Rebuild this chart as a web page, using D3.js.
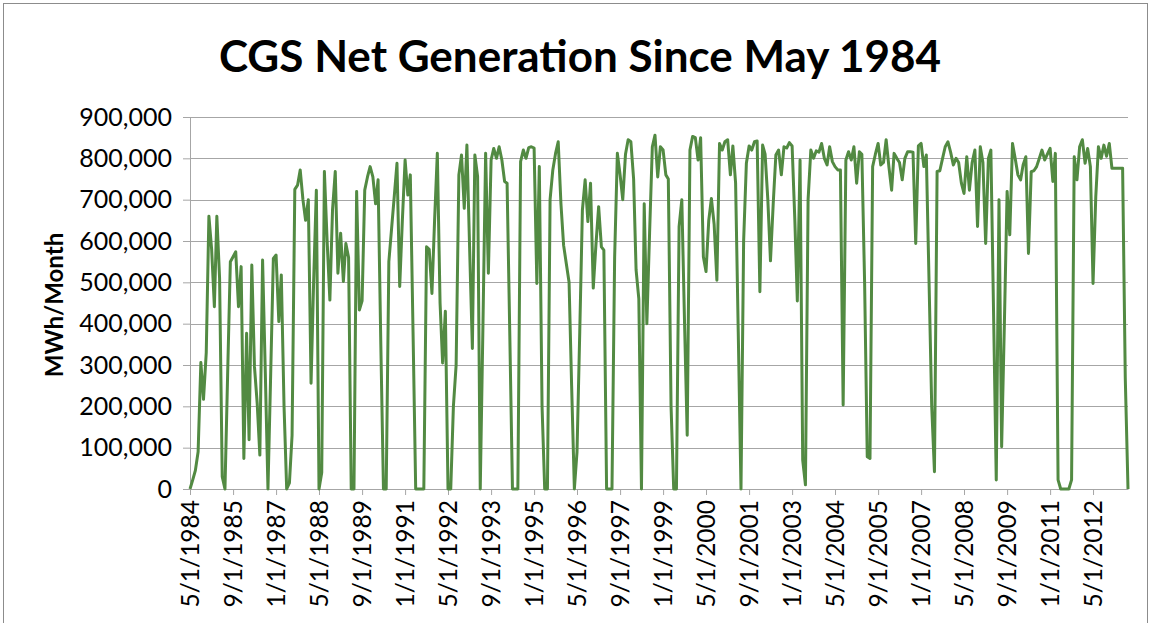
<!DOCTYPE html>
<meta charset="utf-8">
<script src="https://d3js.org/d3.v7.min.js"></script>
<style>
  body { margin: 0; background: #fff; }
  text { font-family: Lato, "Open Sans", sans-serif; fill: #000; }
  .axis path, .axis line { stroke: #a6a6a6; }
  .grid line { stroke: #a6a6a6; }
</style>
<body>
<div id="chart"></div>
<script>
// months covered by the series
var startMonth = new Date(1984, 4, 1);
var endMonth = new Date(2013, 5, 1);

var tickLabels = ["5/1/1984", "9/1/1985", "1/1/1987", "5/1/1988", "9/1/1989", "1/1/1991",
  "5/1/1992", "9/1/1993", "1/1/1995", "5/1/1996", "9/1/1997", "1/1/1999", "5/1/2000",
  "9/1/2001", "1/1/2003", "5/1/2004", "9/1/2005", "1/1/2007", "5/1/2008", "9/1/2009",
  "1/1/2011", "5/1/2012"];

var yTicks = [0, 100000, 200000, 300000, 400000, 500000, 600000, 700000, 800000, 900000];

// MWh per month (one value per month, May 1984 - Jun 2013)
var netGeneration = [
  0, 22000, 45000, 90000, 306000, 217000, 330000, 660000, 580000, 441000,
  660000, 510000, 30000, 0, 275000, 550000, 562000, 574000, 441000, 538000,
  74000, 377000, 119000, 542000, 296000, 207000, 82000, 554000, 280000, 0,
  280000, 558000, 566000, 405000, 518000, 200000, 0, 15000, 130000, 725000,
  735000, 772000, 700000, 650000, 700000, 256000, 500000, 723000, 0, 40000,
  768000, 600000, 457000, 675000, 768000, 522000, 619000, 502000, 594000, 560000,
  0, 0, 720000, 433000, 455000, 723000, 755000, 780000, 755000, 690000,
  748000, 350000, 0, 0, 550000, 630000, 710000, 788000, 490000, 650000,
  796000, 711000, 760000, 380000, 0, 0, 0, 0, 586000, 580000,
  473000, 650000, 812000, 450000, 305000, 430000, 0, 0, 200000, 300000,
  760000, 808000, 679000, 832000, 580000, 340000, 808000, 756000, 0, 400000,
  812000, 522000, 796000, 824000, 800000, 828000, 796000, 744000, 740000, 370000,
  0, 0, 0, 792000, 820000, 800000, 826000, 828000, 825000, 497000,
  780000, 200000, 0, 0, 700000, 772000, 812000, 840000, 690000, 590000,
  545000, 500000, 250000, 0, 90000, 380000, 675000, 748000, 647000, 740000,
  486000, 590000, 683000, 586000, 578000, 0, 0, 0, 560000, 812000,
  760000, 700000, 810000, 845000, 840000, 750000, 530000, 460000, 0, 690000,
  400000, 620000, 828000, 856000, 755000, 828000, 820000, 760000, 750000, 200000,
  0, 0, 635000, 700000, 400000, 130000, 820000, 853000, 850000, 796000,
  850000, 562000, 526000, 650000, 703000, 640000, 505000, 836000, 820000, 840000,
  845000, 760000, 830000, 740000, 380000, 0, 600000, 788000, 830000, 820000,
  840000, 842000, 477000, 832000, 810000, 700000, 552000, 690000, 808000, 820000,
  760000, 828000, 825000, 838000, 830000, 650000, 455000, 796000, 70000, 10000,
  700000, 820000, 800000, 818000, 815000, 836000, 800000, 784000, 828000, 792000,
  780000, 772000, 772000, 203000, 796000, 816000, 796000, 828000, 740000, 816000,
  810000, 500000, 78000, 74000, 780000, 810000, 836000, 784000, 790000, 845000,
  780000, 723000, 812000, 800000, 790000, 748000, 800000, 816000, 816000, 815000,
  594000, 830000, 836000, 780000, 808000, 500000, 200000, 42000, 768000, 770000,
  800000, 828000, 840000, 815000, 784000, 800000, 790000, 740000, 715000, 804000,
  723000, 790000, 820000, 635000, 828000, 790000, 594000, 800000, 820000, 420000,
  22000, 700000, 102000, 400000, 720000, 615000, 836000, 800000, 760000, 748000,
  784000, 804000, 570000, 768000, 770000, 780000, 800000, 820000, 796000, 810000,
  824000, 744000, 812000, 22000, 0, 0, 0, 0, 22000, 804000,
  748000, 828000, 845000, 788000, 824000, 780000, 497000, 707000, 828000, 800000,
  832000, 805000, 836000, 776000, 776000, 776000, 776000, 776000, 270000, 0
];

var width = 1151, height = 623;
var plot = { left: 190, right: 1128, top: 117, bottom: 489 };

var months = d3.timeMonth.range(startMonth, d3.timeMonth.offset(endMonth, 1));
var data = months.map(function(m, i) { return { date: m, value: netGeneration[i] }; });

var parseLabel = d3.timeParse("%m/%d/%Y");
var tickDates = tickLabels.map(parseLabel);

var svg = d3.select("#chart").append("svg")
    .attr("width", width)
    .attr("height", height);

// chart frame
svg.append("rect")
    .attr("x", 3.5).attr("y", 3.5)
    .attr("width", 1144).attr("height", 640)
    .attr("fill", "none")
    .attr("stroke", "#8c8c8c");

var x = d3.scaleTime()
    .domain([startMonth, endMonth])
    .range([plot.left, plot.right]);

var y = d3.scaleLinear()
    .domain([0, 900000])
    .range([plot.bottom, plot.top]);

// horizontal gridlines
svg.append("g")
    .attr("class", "grid")
    .selectAll("line")
    .data(yTicks.slice(1))
    .join("line")
    .attr("x1", plot.left).attr("x2", plot.right)
    .attr("y1", function(d) { return Math.round(y(d)) + 0.5; })
    .attr("y2", function(d) { return Math.round(y(d)) + 0.5; });

// y axis
var yAxis = svg.append("g")
    .attr("class", "axis")
    .attr("transform", "translate(" + plot.left + ",0)")
    .call(d3.axisLeft(y).tickValues(yTicks).tickSize(7).tickSizeOuter(0).tickPadding(11)
      .tickFormat(d3.format(",")));
yAxis.selectAll("text")
    .style("font-size", "25px");

// x axis
var xAxis = svg.append("g")
    .attr("class", "axis")
    .attr("transform", "translate(0," + plot.bottom + ")")
    .call(d3.axisBottom(x).tickValues(tickDates).tickSize(6).tickSizeOuter(0)
      .tickFormat(function(d, i) { return tickLabels[i]; }));
xAxis.selectAll("text")
    .attr("transform", "rotate(-90)")
    .attr("text-anchor", "end")
    .attr("x", -11)
    .attr("y", 0)
    .attr("dy", "0.36em")
    .style("font-size", "24.5px");

// the series
var line = d3.line()
    .x(function(d) { return x(d.date); })
    .y(function(d) { return y(d.value); });

svg.append("path")
    .datum(data)
    .attr("fill", "none")
    .attr("stroke", "#528a42")
    .attr("stroke-width", 3)
    .attr("stroke-linejoin", "round")
    .attr("d", line);

// y axis title
svg.append("text")
    .attr("transform", "translate(63,305) rotate(-90)")
    .attr("text-anchor", "middle")
    .style("font-size", "24px")
    .style("font-weight", "bold")
    .text("MWh/Month");

// title
svg.append("text")
    .attr("x", 580)
    .attr("y", 72)
    .attr("text-anchor", "middle")
    .style("font-size", "44px")
    .style("font-weight", "bold")
    .text("CGS Net Generation Since May 1984");
</script>
</body>
